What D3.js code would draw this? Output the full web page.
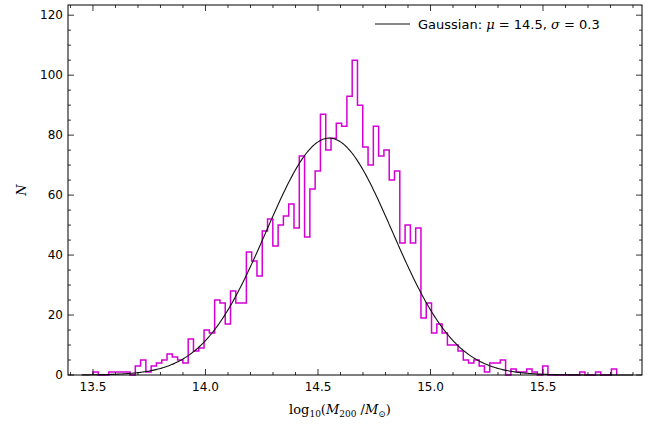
<!DOCTYPE html>
<html><head><meta charset="utf-8">
<script src="https://cdn.jsdelivr.net/npm/d3@7"></script>
<style>body{margin:0;background:#fff}svg{font-family:"DejaVu Sans",sans-serif}</style>
</head><body><svg id="c" width="660" height="428"></svg>
<script>
const binStart = 13.5;
const binWidth = 0.02351;
const counts = [1,0,0,1,1,1,1,0,3,5, 1,3,4,5,7,6,5,4,12,8, 9,15,14,25,24,17,28,24,24,41,
 38,33,48,52,43,50,53,57,49,73, 46,62,68,87,75,79,84,83,93,105, 90,76,70,83,73,75,65,68,44,50,
 44,49,19,24,14,17,14,10,10,8, 5,4,5,3,1,4,4,5,0,2, 1,1,2,1,0,3,0,0,0,0, 0,0,1,0,0,1,0,0,2];
const gaussMu = 14.55, gaussSigma = 0.28, gaussAmp = 79;
const xTicks = [13.5,14.0,14.5,15.0,15.5];
const yTicks = [0,20,40,60,80,100,120];

const svg = d3.select("#c");
const L=68,R=642,T=5,B=375;
const x = d3.scaleLinear().domain([13.389,15.94]).range([L,R]);
const y = d3.scaleLinear().domain([0,123.4]).range([B,T]);

const pts=[];
counts.forEach((c,i)=>{const x0=binStart+i*binWidth;pts.push([x0,c],[x0+binWidth,c]);});
const path = "M"+x(binStart)+","+y(0)+pts.map(p=>"L"+x(p[0])+","+y(p[1])).join("")+"L"+x(binStart+counts.length*binWidth)+","+y(0);
svg.append("path").attr("d",path).attr("fill","none").attr("stroke","#d400d4").attr("stroke-width",1.5);

const gx = d3.range(13.45,15.9,0.005);
svg.append("path").attr("d",d3.line().x(d=>x(d)).y(d=>y(gaussAmp*Math.exp(-0.5*((d-gaussMu)/gaussSigma)**2)))(gx))
 .attr("fill","none").attr("stroke","#111").attr("stroke-width",1.1);

svg.append("rect").attr("x",L).attr("y",T).attr("width",R-L).attr("height",B-T).attr("fill","none").attr("stroke","#000").attr("stroke-width",1);
const tk=svg.append("g").attr("stroke","#000").attr("stroke-width",0.8);
d3.range(13.4,15.95,0.1).forEach(v=>{const maj=xTicks.some(t=>Math.abs(t-v)<1e-6);const l=maj?6:3;const px=x(v);if(px<L||px>R)return;
 tk.append("line").attr("x1",px).attr("x2",px).attr("y1",B).attr("y2",B-l);
 tk.append("line").attr("x1",px).attr("x2",px).attr("y1",T).attr("y2",T+l);});
d3.range(0,124,5).forEach(v=>{const maj=v%20===0;const l=maj?6:3;const py=y(v);
 tk.append("line").attr("x1",L).attr("x2",L+l).attr("y1",py).attr("y2",py);
 tk.append("line").attr("x1",R).attr("x2",R-l).attr("y1",py).attr("y2",py);});
xTicks.forEach(t=>svg.append("text").attr("x",x(t)).attr("y",B+16).attr("text-anchor","middle").attr("font-size",12).text(t.toFixed(1)));
yTicks.forEach(t=>svg.append("text").attr("x",L-5).attr("y",y(t)+4).attr("text-anchor","end").attr("font-size",12).text(t));

svg.append("text").attr("transform","translate(26,190) rotate(-90)").attr("text-anchor","middle").attr("font-family","DejaVu Serif").attr("font-style","italic").attr("font-size",13).text("N");
const xl=svg.append("text").attr("x",340).attr("y",414).attr("text-anchor","middle").attr("font-size",13).attr("font-family","DejaVu Serif");
xl.append("tspan").text("log");
xl.append("tspan").attr("font-size",9).attr("dy",3).text("10");
xl.append("tspan").attr("dy",-3).text("(");
xl.append("tspan").attr("font-style","italic").text("M");
xl.append("tspan").attr("font-size",9).attr("dy",3).text("200");
xl.append("tspan").attr("dy",-3).text(" /");
xl.append("tspan").attr("font-style","italic").text("M");
xl.append("tspan").attr("font-size",9).attr("dy",3).text("⊙");
xl.append("tspan").attr("dy",-3).text(")");

svg.append("line").attr("x1",375).attr("x2",410).attr("y1",24).attr("y2",24).attr("stroke","#111").attr("stroke-width",1.1);
const lg=svg.append("text").attr("x",418).attr("y",29).attr("font-size",13).attr("font-family","DejaVu Sans");
lg.append("tspan").text("Gaussian: ");
lg.append("tspan").attr("font-family","DejaVu Serif").attr("font-style","italic").text("μ");
lg.append("tspan").text(" = 14.5, ");
lg.append("tspan").attr("font-family","DejaVu Serif").attr("font-style","italic").text("σ");
lg.append("tspan").text(" = 0.3");
</script></body></html>
